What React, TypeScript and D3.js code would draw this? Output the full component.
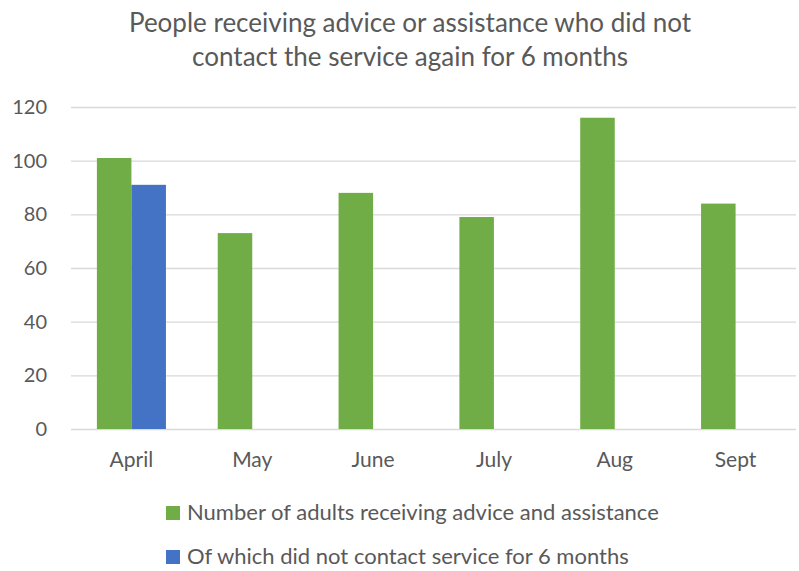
import React, { useRef, useEffect } from "react";
import * as d3 from "d3";

const months = ["April", "May", "June", "July", "Aug", "Sept"];
const adultsAdvised = [101, 73, 88, 79, 116, 84];
const noContact6m = [91, null, null, null, null, null];
const seriesNames = [
  "Number of adults receiving advice and assistance",
  "Of which did not contact service for 6 months",
];
const seriesColors = ["#70AD47", "#4472C4"];
const yTicks = [0, 20, 40, 60, 80, 100, 120];
const titleLines = [
  "People receiving advice or assistance who did not",
  "contact the service again for 6 months",
];

const width = 799;
const height = 571;
const margin = { top: 107, right: 3, bottom: 142, left: 71 };
const font = "Lato, 'Open Sans', sans-serif";

export default function App() {
  const ref = useRef<SVGSVGElement>(null);

  useEffect(() => {
    if (!ref.current) return;
    const svg = d3.select(ref.current);
    svg.selectAll("*").remove();

    const boundedW = width - margin.left - margin.right;
    const boundedH = height - margin.top - margin.bottom;

    const x0 = d3.scaleBand().domain(months).range([0, boundedW]).paddingInner(1.5 / 3.5).paddingOuter(0.75 / 3.5);
    const x1 = d3.scaleBand().domain(["0", "1"]).range([0, x0.bandwidth()]);
    const y = d3.scaleLinear().domain([0, 120]).range([boundedH, 0]);

    // title
    const title = svg.append("text")
      .attr("text-anchor", "middle")
      .attr("fill", "#595959")
      .style("font-family", font)
      .style("font-size", "26px");
    titleLines.forEach((t, i) => {
      title.append("tspan").attr("x", 410).attr("y", 32 + i * 34).text(t);
    });

    const bounds = svg.append("g").attr("transform", `translate(${margin.left},${margin.top})`);

    const yAxis = d3.axisLeft(y).tickValues(yTicks).tickSize(-boundedW).tickPadding(24);
    const yg = bounds.append("g").call(yAxis);
    yg.select(".domain").remove();
    yg.selectAll(".tick line").attr("stroke", "#D9D9D9").attr("stroke-width", 1.3);
    yg.selectAll(".tick text")
      .attr("fill", "#595959")
      .style("font-family", font)
      .style("font-size", "20px");

    const series = [adultsAdvised, noContact6m];
    series.forEach((vals, si) => {
      bounds.append("g")
        .selectAll("rect")
        .data(months.map((m, i) => ({ m, v: vals[i] })).filter(d => d.v != null))
        .join("rect")
        .attr("x", d => (x0(d.m) as number) + (x1(String(si)) as number))
        .attr("y", d => y(d.v as number))
        .attr("width", x1.bandwidth())
        .attr("height", d => boundedH - y(d.v as number))
        .attr("fill", seriesColors[si]);
    });

    const xAxis = d3.axisBottom(x0).tickSize(0).tickPadding(23);
    const xg = bounds.append("g").attr("transform", `translate(0,${boundedH})`).call(xAxis);
    xg.select(".domain").remove();
    xg.selectAll(".tick text")
      .attr("fill", "#595959")
      .style("font-family", font)
      .style("font-size", "21px");

    // legend
    const legend = svg.append("g").attr("transform", "translate(166,506)");
    seriesNames.forEach((name, i) => {
      const g = legend.append("g").attr("transform", `translate(0,${i * 44})`);
      g.append("rect").attr("width", 14).attr("height", 14).attr("fill", seriesColors[i]);
      g.append("text")
        .attr("x", 21)
        .attr("y", 14)
        .attr("fill", "#595959")
        .style("font-family", font)
        .style("font-size", "22px")
        .text(name);
    });
  }, []);

  return (
    <svg
      ref={ref}
      width={width}
      height={height}
      style={{ display: "block", position: "absolute", left: 0, top: 0, background: "#fff" }}
    />
  );
}
